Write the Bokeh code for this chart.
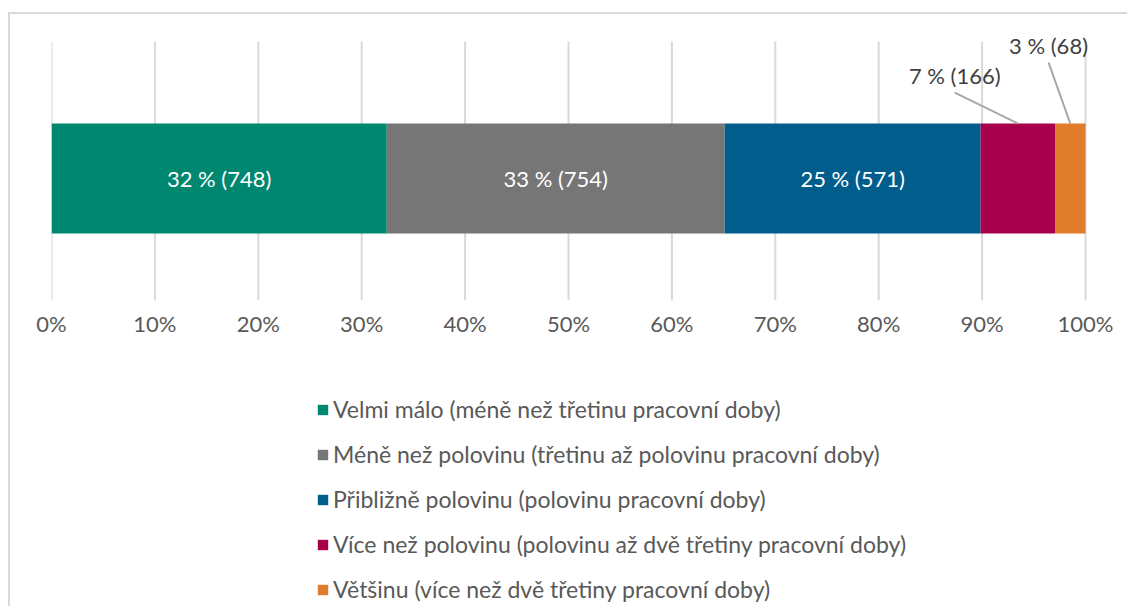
from bokeh.plotting import figure
from bokeh.models import (ColumnDataSource, Range1d, FixedTicker, NumeralTickFormatter,
                          Legend, LegendItem)
from bokeh.layouts import column
from bokeh.core.properties import value
from bokeh.embed import file_html
from bokeh.resources import INLINE

categories = [
    "Velmi málo (méně než třetinu pracovní doby)",
    "Méně než polovinu (třetinu až polovinu pracovní doby)",
    "Přibližně polovinu (polovinu pracovní doby)",
    "Více než polovinu (polovinu až dvě třetiny pracovní doby)",
    "Většinu (více než dvě třetiny pracovní doby)",
]
counts = [748, 754, 571, 166, 68]
percent_labels = ["32 % (748)", "33 % (754)", "25 % (571)", "7 % (166)", "3 % (68)"]
colors = ["#00876f", "#767676", "#005d8c", "#a6004a", "#e07d2c"]
tick_values = [0, 0.1, 0.2, 0.3, 0.4, 0.5, 0.6, 0.7, 0.8, 0.9, 1.0]

FONT = "Lato"
FSIZE = "22px"
LEG_FSIZE = "23px"
total = sum(counts)
shares = [c / total for c in counts]
lefts, rights = [], []
acc = 0.0
for s in shares:
    lefts.append(acc)
    acc += s
    rights.append(acc)
centers = [(l + r) / 2 for l, r in zip(lefts, rights)]

# ---- main chart ----
UNIT_X = 1034          # px for 0..100 %
FRAME_W = 1078         # frame runs on to the right edge so labels are not clipped
UNIT_Y = 259           # px for 0..1 on the y scale
FRAME_H = 270
p = figure(frame_width=FRAME_W, frame_height=FRAME_H, output_backend="svg",
           toolbar_location=None, y_axis_location=None,
           x_range=Range1d(0, FRAME_W / UNIT_X), y_range=Range1d(0, FRAME_H / UNIT_Y),
           min_border_left=41, min_border_right=0, min_border_top=16,
           min_border_bottom=40)
p.outline_line_color = None
p.background_fill_color = "white"
p.border_fill_color = "white"
p.xgrid.visible = False
p.ygrid.visible = False

# vertical grid lines (from the tick values), spanning the plotting band 0..1
p.segment(x0=tick_values, y0=[0] * len(tick_values), x1=tick_values,
          y1=[1] * len(tick_values), line_color="#d9d9d9", line_width=2, level="underlay")

xa = p.xaxis[0]
xa.ticker = FixedTicker(ticks=tick_values)
xa.formatter = NumeralTickFormatter(format="0%")
xa.axis_line_color = None
xa.major_tick_line_color = None
xa.minor_tick_line_color = None
xa.major_tick_out = 0
xa.major_tick_in = 0
xa.major_label_text_font = FONT
xa.major_label_text_font_size = FSIZE
xa.major_label_text_color = "#595959"
xa.major_label_standoff = 9

BAR_Y = 0.471
BAR_H = 0.425
for i in range(len(categories)):
    p.hbar(y=BAR_Y, left=lefts[i], right=rights[i], height=BAR_H, color=colors[i],
           line_color=None)

# inside labels
p.text(x=centers[:3], y=[BAR_Y] * 3, text=percent_labels[:3], text_color="white",
       text_font=value(FONT), text_font_size=FSIZE, text_align="center",
       text_baseline="middle")

# outside labels with leader lines
out_x = [centers[3] - 0.061, centers[4] - 0.021]
out_y = [0.869, 0.985]
p.text(x=out_x, y=out_y, text=percent_labels[3:], text_color="#404040",
       text_font=value(FONT), text_font_size=FSIZE, text_align="center",
       text_baseline="middle")
bar_top = BAR_Y + BAR_H / 2
p.segment(x0=out_x, y0=[0.803, 0.919], x1=centers[3:],
          y1=[bar_top, bar_top], line_color="#a6a6a6", line_width=2)

# ---- legend panel ----
LEG_FIG_H = 268
q = figure(width=41 + FRAME_W, height=LEG_FIG_H, output_backend="svg",
           toolbar_location=None, x_axis_location=None, y_axis_location=None,
           x_range=Range1d(0, 1), y_range=Range1d(10, 11),
           min_border_left=0, min_border_right=0, min_border_top=0, min_border_bottom=0)
q.grid.visible = False
q.outline_line_color = None
q.background_fill_color = "white"
q.border_fill_color = "white"
proxies = []
for i in range(len(categories)):
    proxies.append(q.hbar(y=BAR_Y, left=lefts[i], right=rights[i], height=BAR_H,
                          color=colors[i], line_color=None))

ITEM_H = 28
SPACING = 17
n = len(categories)
legend_h = n * ITEM_H + (n - 1) * SPACING
top_offset = 409 - 340 - ITEM_H / 2
legend = Legend(items=[LegendItem(label=categories[i], renderers=[proxies[i]])
                       for i in range(n)],
                orientation="vertical",
                location=(265, LEG_FIG_H - top_offset - legend_h))
legend.label_text_font = FONT
legend.label_text_font_size = LEG_FSIZE
legend.label_text_color = "#595959"
legend.glyph_width = 13
legend.glyph_height = 13
legend.label_height = ITEM_H
legend.label_standoff = 4
legend.spacing = SPACING
legend.padding = 0
legend.margin = 0
legend.border_line_color = None
legend.background_fill_alpha = 0
q.add_layout(legend, "center")

layout = column(p, q, spacing=0)
layout.margin = (14, 0, 0, 10)
layout.styles = {"box-shadow": "-2px -2px 0 0 #d9d9d9"}

open("out.html", "w").write(file_html(layout, INLINE))
